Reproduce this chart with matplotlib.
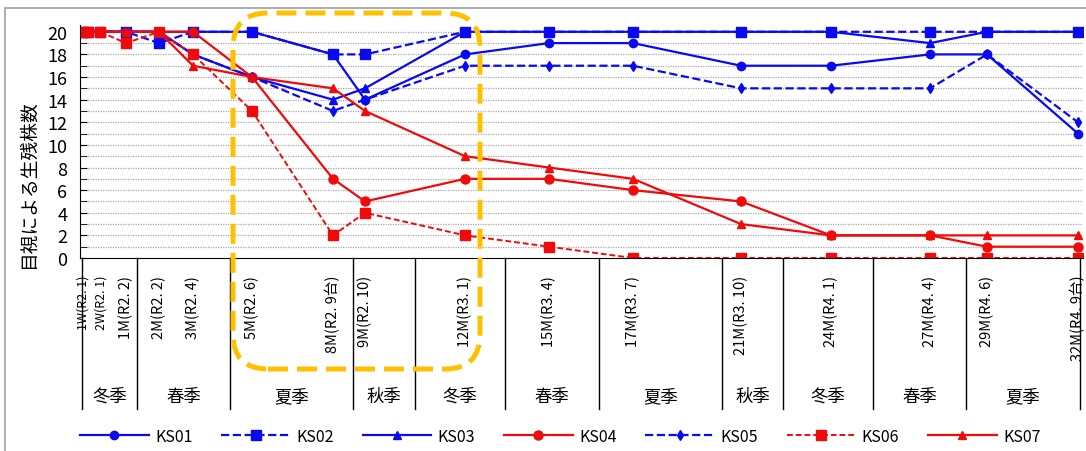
import matplotlib
matplotlib.use("Agg")
import matplotlib.pyplot as plt
import matplotlib.transforms as mtransforms
from matplotlib.patches import FancyBboxPatch, Rectangle

plt.rcParams['font.family'] = ['Noto Sans CJK JP', 'DejaVu Sans']

# elapsed days since planting (x positions of the survey points)
days = [0, 5, 17, 43, 76, 110, 169, 250, 282, 382, 466, 550, 658, 748, 847, 904, 995]
tick_labels = ['1W(R2. 1)', '2W(R2. 1)', '1M(R2. 2)', '2M(R2. 2)', '3M(R2. 4)', '5M(R2. 6)',
               '8M(R2. 9台)', '9M(R2. 10)', '12M(R3. 1)', '15M(R3. 4)', '17M(R3. 7)',
               '21M(R3. 10)', '24M(R4. 1)', '27M(R4. 4)', '29M(R4. 6)', '32M(R4. 9台)']

ks01 = [20, 20, 20, 20, 20, 20, 20, 18, 14, 18, 19, 19, 17, 17, 18, 18, 11]
ks02 = [20, 20, 20, 20, 19, 20, 20, 18, 18, 20, 20, 20, 20, 20, 20, 20, 20]
ks03 = [20, 20, 20, 20, 20, 18, 16, 14, 15, 20, 20, 20, 20, 20, 19, 20, 20]
ks04 = [20, 20, 20, 20, 20, 20, 16, 7, 5, 7, 7, 6, 5, 2, 2, 1, 1]
ks05 = [20, 20, 20, 20, 20, 18, 16, 13, 14, 17, 17, 17, 15, 15, 15, 18, 12]
ks06 = [20, 20, 20, 19, 20, 18, 13, 2, 4, 2, 1, 0, 0, 0, 0, 0, 0]
ks07 = [20, 20, 20, 20, 20, 17, 16, 15, 13, 9, 8, 7, 3, 2, 2, 2, 2]

# season cells under the axis
season_edges = [-1, 54, 147, 270, 332, 422, 516, 639, 700, 790, 883, 997]
seasons = ['冬季', '春季', '夏季', '秋季', '冬季', '春季', '夏季', '秋季', '冬季', '春季', '夏季']

BLUE = '#0A0AF0'
RED = '#F00A0A'

fig = plt.figure(figsize=(10.86, 4.52), dpi=100)
ax = fig.add_axes([80 / 1086, 1 - 259 / 452, 1003 / 1086, 233 / 452])

ax.plot(days, ks01, color=BLUE, lw=1.6, marker='o', ms=6, label='KS01')
ax.plot(days, ks02, color=BLUE, lw=1.6, ls='--', marker='s', ms=6.5, label='KS02')
ax.plot(days, ks03, color=BLUE, lw=1.6, marker='^', ms=6, label='KS03')
ax.plot(days, ks04, color=RED, lw=1.6, marker='o', ms=6.5, label='KS04')
ax.plot(days, ks05, color=BLUE, lw=1.6, ls='--', marker='d', ms=5, label='KS05')
ax.plot(days, ks06, color=RED, lw=1.4, ls=(0, (3, 1.5)), marker='s', ms=6.5, label='KS06')
ax.plot(days, ks07, color=RED, lw=1.6, marker='^', ms=5.5, label='KS07')

ax.set_xlim(-3, 1000)
ax.set_ylim(0, 20.6)
ax.set_yticks(range(0, 21, 2))
ax.set_yticks(range(1, 21, 2), minor=True)
ax.tick_params(axis='y', which='both', direction='in', length=5, labelsize=13, pad=9)
for v in range(1, 21):
    ax.axhline(v, color='#a8a8a8', lw=0.9, ls=(0, (1, 1)), zorder=0)

# labels sit under the points; the first two are nudged apart a little
tick_pos = list(days[1:])
tick_pos[0] -= 5
tick_pos[1] += 1
ax.set_xticks(tick_pos)
ax.set_xticklabels(tick_labels, rotation=90, fontsize=10.5)
for lab in ax.get_xticklabels()[:2]:
    lab.set_fontsize(9)
ax.tick_params(axis='x', length=0, pad=12)

ax.spines['top'].set_visible(False)
ax.spines['right'].set_visible(False)
ax.set_ylabel('目視による生残株数', fontsize=13.5)
ax.yaxis.set_label_coords(-0.041, 0.32)

trans = mtransforms.blended_transform_factory(ax.transData, ax.transAxes)
for e in season_edges:
    ax.plot([e, e], [0, -0.648], color='black', lw=1, transform=trans, clip_on=False)
for i, s in enumerate(seasons):
    c = (season_edges[i] + season_edges[i + 1]) / 2
    ax.text(c, -0.592, s, transform=trans, ha='center', va='center', fontsize=12.5)

fig.legend(loc='center', bbox_to_anchor=(0.516, 0.033), ncol=7, frameon=False,
           fontsize=11.5, handlelength=4.3, handletextpad=0.4, columnspacing=1.8,
           numpoints=1)

# highlight box
box = FancyBboxPatch((2.33, 0.82), 2.47, 3.56, boxstyle='round,pad=0,rounding_size=0.35',
                     transform=fig.dpi_scale_trans, fill=False, edgecolor='#FFC000',
                     lw=3.6, ls=(0, (4, 1.8)), zorder=10)
fig.patches.append(box)

# outer frame of the chart area
frame = Rectangle((0.05, -0.1), 11.0, 4.53, transform=fig.dpi_scale_trans, fill=False,
                  edgecolor='#a0a0a0', lw=1.2)
fig.patches.append(frame)

fig.savefig('out.png', dpi=100)
